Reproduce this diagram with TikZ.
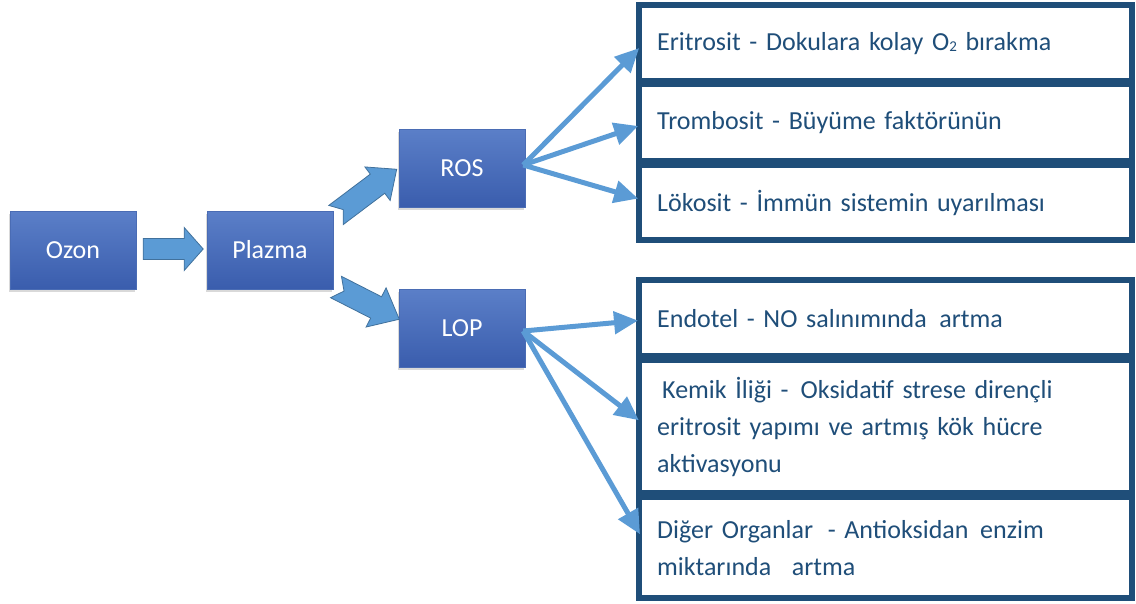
\documentclass[tikz,border=0pt]{standalone}
\usepackage{fontspec}
\setmainfont{Carlito}
\usetikzlibrary{arrows.meta,shadows,calc}
\definecolor{boxtop}{HTML}{5B7FC8}
\definecolor{boxbot}{HTML}{3A5DAD}
\definecolor{boxline}{HTML}{4A6CB4}
\definecolor{frame}{HTML}{1F4E79}
\definecolor{arr}{HTML}{5B9BD5}
\definecolor{arrline}{HTML}{41719C}
\definecolor{txt}{HTML}{1F4E79}
\begin{document}
\begin{tikzpicture}[x=1pt,y=-1pt,
  bluebox/.style={rectangle, minimum width=126pt, minimum height=78pt,
    top color=boxtop, bottom color=boxbot, draw=boxline, line width=0.4pt,
    text=white, font=\fontsize{26}{30}\selectfont,
    drop shadow={shadow xshift=-1.5pt, shadow yshift=-3pt, opacity=0.3}},
  blockarrow/.style={fill=arr, draw=arrline, line width=0.8pt, line join=miter},
  rowbox/.style={rectangle, fill=white, minimum width=487pt, text width=457pt,
    inner xsep=15pt, align=left, anchor=north west, text=txt,
    font=\fontsize{26}{37}\selectfont},
  thinarrow/.style={draw=arr, line width=5pt,
    -{Triangle[length=24pt,width=22pt]}, shorten >=4pt}
]
\useasboundingbox (0,0) rectangle (1136,603);

% blue boxes
\node[bluebox] (ozon) at (73,250) {Ozon};
\node[bluebox] (plazma) at (270,250) {Plazma};
\node[bluebox] (ros) at (462,168) {ROS};
\node[bluebox] (lop) at (462,328) {LOP};

% block arrows (Ozon -> Plazma, Plazma -> ROS, Plazma -> LOP)
\coordinate (a1s) at ($(ozon.east)+(7,-1)$);
\begin{scope}[shift={(a1s)}]
  \draw[blockarrow] (0,-10.5) -- (41,-10.5) -- (41,-21.5) -- (60,0) -- (41,21.5)
    -- (41,10.5) -- (0,10.5) -- cycle;
\end{scope}
\coordinate (a2s) at (336,215);
\begin{scope}[shift={(a2s)}, rotate=37]
  \draw[blockarrow] (0,-12) -- (52,-12) -- (52,-21) -- (76,0) -- (52,21)
    -- (52,12) -- (0,12) -- (9,0) -- cycle;
\end{scope}
\coordinate (a3s) at (336,287);
\begin{scope}[shift={(a3s)}, rotate=-27]
  \draw[blockarrow] (0,-12) -- (45,-12) -- (45,-22) -- (71,0) -- (45,22)
    -- (45,12) -- (0,12) -- (9,0) -- cycle;
\end{scope}

% frames of the right groups
\fill[frame] (636,2) rectangle (1135,243);
\fill[frame] (636,277) rectangle (1135,601);

% right rows
\node[rowbox, minimum height=70pt] (r1) at (642,8)
  {Eritrosit - Dokulara kolay O{\fontsize{15}{15}\selectfont\raisebox{-1.5pt}{2}} bırakma};
\node[rowbox, minimum height=71pt] (r2) at (642,87)
  {\raisebox{-2pt}{Trombosit - Büyüme faktörünün}};
\node[rowbox, minimum height=69pt] (r3) at (642,168)
  {\raisebox{-3pt}{Lökosit - İmmün sistemin uyarılması}};
\node[rowbox, minimum height=70pt] (r4) at (642,283)
  {Endotel - NO salınımında\hspace{4pt} artma};
\node[rowbox, minimum height=127pt] (r5) at (642,363)
  {\hspace{5pt}Kemik İliği -\hspace{12pt}Oksidatif strese dirençli\\eritrosit yapımı ve artmış kök hücre\\aktivasyonu};
\node[rowbox, minimum height=95pt] (r6) at (642,500)
  {Diğer Organlar\hspace{6pt} - Antioksidan\hspace{3pt} enzim\\miktarında\hspace{12pt} artma};

% thin arrows
\coordinate (rosout) at ($(ros.east)+(-2,-3)$);
\coordinate (lopout) at ($(lop.east)+(-2,3)$);
\draw[thinarrow] (rosout) -- ($(r1.west)+(0,2)$);
\draw[thinarrow] (rosout) -- ($(r2.west)+(0,2)$);
\draw[thinarrow] (rosout) -- ($(r3.west)+(0,-3)$);
\draw[thinarrow] (lopout) -- ($(r4.west)+(0,2)$);
\draw[thinarrow] (lopout) -- ($(r5.west)+(0,-4)$);
\draw[thinarrow] (lopout) -- ($(r6.west)+(0,-10)$);
\end{tikzpicture}
\end{document}
